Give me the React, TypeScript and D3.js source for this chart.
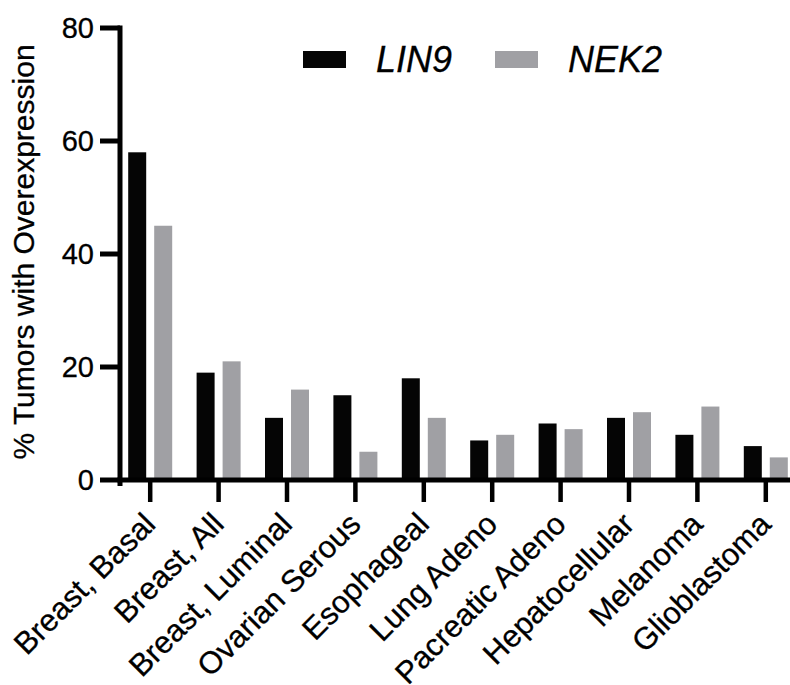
import React from "react";
import * as d3 from "d3";

const categories = [
  "Breast, Basal",
  "Breast, All",
  "Breast, Luminal",
  "Ovarian Serous",
  "Esophageal",
  "Lung Adeno",
  "Pacreatic Adeno",
  "Hepatocellular",
  "Melanoma",
  "Glioblastoma",
];
const lin9 = [58, 19, 11, 15, 18, 7, 10, 11, 8, 6];
const nek2 = [45, 21, 16, 5, 11, 8, 9, 12, 13, 4];
const yTicks = [0, 20, 40, 60, 80];
const seriesNames = ["LIN9", "NEK2"];
const seriesColors = ["#050505", "#a0a0a4"];

const W = 790;
const H = 685;
const FONT = "'Liberation Sans', Arial, Helvetica, sans-serif";

export default function App() {
  const x = d3.scaleBand<string>().domain(categories).range([116, 800]).padding(0);
  const y = d3.scaleLinear().domain([0, 80]).range([480, 28]);
  const barW = 18;
  const gap = 4;
  const axisX = 120;
  const sw = 5;

  return (
    <svg
      width={W}
      height={H}
      viewBox={`0 0 ${W} ${H}`}
      style={{ position: "absolute", left: 0, top: 0, background: "#fff" }}
    >
      <rect x={0} y={0} width={W} height={H} fill="#fff" />
      {/* bars */}
      {categories.map((c, i) => {
        const cx = (x(c) ?? 0) + x.bandwidth() / 2;
        return (
          <g key={c}>
            <rect
              x={cx - gap - barW}
              y={y(lin9[i])}
              width={barW}
              height={y(0) - y(lin9[i])}
              fill={seriesColors[0]}
            />
            <rect
              x={cx + gap}
              y={y(nek2[i])}
              width={barW}
              height={y(0) - y(nek2[i])}
              fill={seriesColors[1]}
            />
          </g>
        );
      })}
      {/* y axis */}
      <line x1={axisX} x2={axisX} y1={y(80) - sw / 2} y2={486} stroke="#000" strokeWidth={sw} />
      {yTicks.map((t) => (
        <g key={t}>
          <line x1={100} x2={axisX} y1={y(t)} y2={y(t)} stroke="#000" strokeWidth={sw} />
          <text
            x={94}
            y={y(t)}
            textAnchor="end"
            dominantBaseline="central"
            fontFamily={FONT}
            fontSize={29}
            fill="#000"
            stroke="#000"
            strokeWidth={0.3}
          >
            {t}
          </text>
        </g>
      ))}
      {/* x axis */}
      <line x1={axisX - sw / 2} x2={W} y1={y(0)} y2={y(0)} stroke="#000" strokeWidth={sw} />
      {categories.map((c) => {
        const cx = (x(c) ?? 0) + x.bandwidth() / 2;
        return (
          <g key={"t" + c}>
            <line x1={cx} x2={cx} y1={y(0)} y2={502} stroke="#000" strokeWidth={4.5} />
            <text
              transform={`translate(${cx + 7},${526}) rotate(-45)`}
              textAnchor="end"
              fontFamily={FONT}
              fontSize={31}
              fill="#000"
              stroke="#000"
              strokeWidth={0.3}
            >
              {c}
            </text>
          </g>
        );
      })}
      {/* y title */}
      <text
        transform={`translate(34,252) rotate(-90)`}
        textAnchor="middle"
        fontFamily={FONT}
        fontSize={30}
        fill="#000"
        stroke="#000"
        strokeWidth={0.3}
      >
        % Tumors with Overexpression
      </text>
      {/* legend */}
      {seriesNames.map((s, i) => {
        const lx = [303, 495][i];
        return (
          <g key={s}>
            <rect x={lx} y={51} width={43} height={17} fill={seriesColors[i]} />
            <text
              x={lx + 73}
              y={72}
              fontFamily={FONT}
              fontSize={36}
              fontStyle="italic"
              fill="#000"
              stroke="#000"
              strokeWidth={0.3}
            >
              {s}
            </text>
          </g>
        );
      })}
    </svg>
  );
}
